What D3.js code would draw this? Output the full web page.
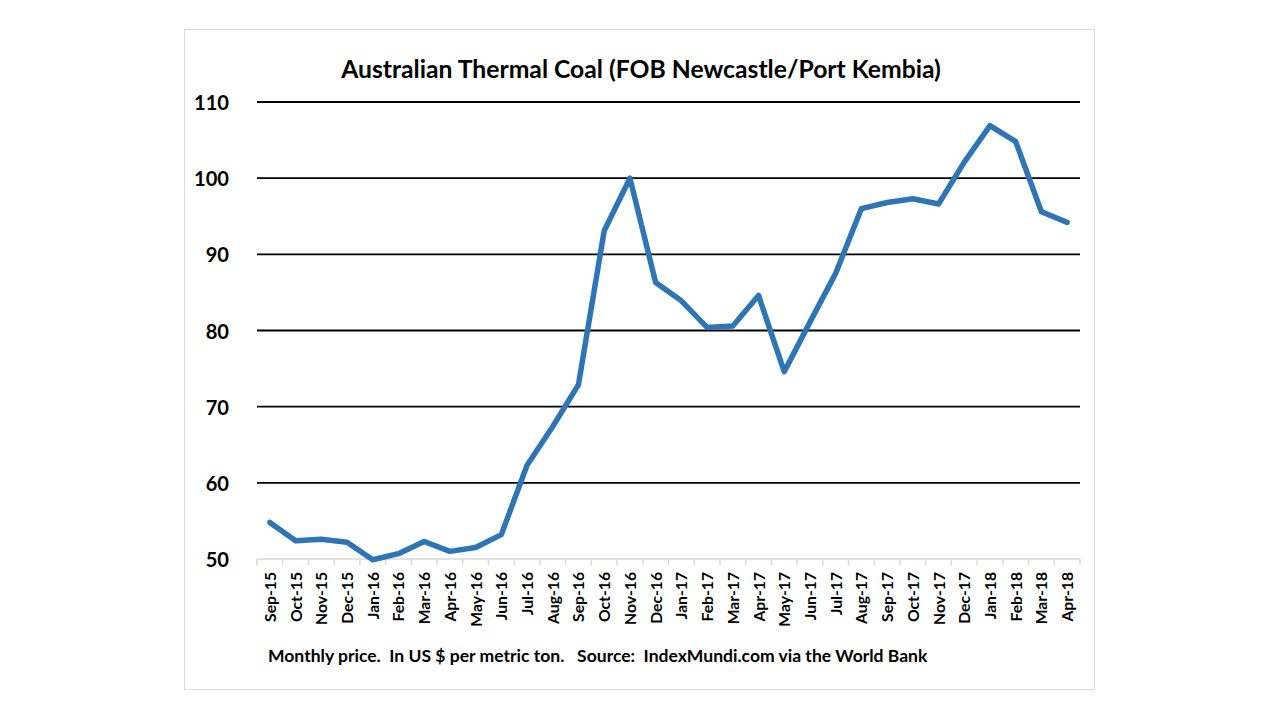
<!DOCTYPE html>
<html>
<head>
<meta charset="utf-8">
<script src="https://cdn.jsdelivr.net/npm/d3@7"></script>
<style>
  body { margin: 0; background: #fff; }
  text { font-family: Lato, "Open Sans", sans-serif; font-weight: bold; fill: #000; white-space: pre; }
</style>
</head>
<body>
<div id="chart"></div>
<script>
// monthly coal price, US $ per metric ton
const months = ["Sep-15", "Oct-15", "Nov-15", "Dec-15", "Jan-16", "Feb-16", "Mar-16", "Apr-16",
  "May-16", "Jun-16", "Jul-16", "Aug-16", "Sep-16", "Oct-16", "Nov-16", "Dec-16",
  "Jan-17", "Feb-17", "Mar-17", "Apr-17", "May-17", "Jun-17", "Jul-17", "Aug-17",
  "Sep-17", "Oct-17", "Nov-17", "Dec-17", "Jan-18", "Feb-18", "Mar-18", "Apr-18"];
const prices = [54.8, 52.4, 52.6, 52.2, 49.9, 50.7, 52.3, 51.0,
  51.5, 53.2, 62.3, 67.4, 72.9, 93.1, 100.0, 86.3,
  83.9, 80.4, 80.6, 84.6, 74.6, 81.1, 87.5, 96.0,
  96.8, 97.3, 96.6, 102.1, 106.9, 104.8, 95.6, 94.2];
const yTicks = [50, 60, 70, 80, 90, 100, 110];

const titleText = "Australian Thermal Coal (FOB Newcastle/Port Kembia)";
const noteText = "Monthly price.  In US $ per metric ton.   Source:  IndexMundi.com via the World Bank";

const W = 1280, H = 720;
const svg = d3.select("#chart").append("svg")
  .attr("width", W).attr("height", H);

// works out a font size so the first node of sel comes out targetWidth wide
function fitSize(sel, targetWidth, baseSize) {
  sel.style("font-size", baseSize + "px");
  const w = sel.node().getComputedTextLength();
  const size = baseSize * targetWidth / w;
  sel.style("font-size", size + "px");
  return size;
}

// chart frame
svg.append("rect")
  .attr("x", 184.5).attr("y", 29.5)
  .attr("width", 910).attr("height", 660)
  .attr("fill", "#fff").attr("stroke", "#d9d9d9").attr("stroke-width", 1);

const x = d3.scaleBand().domain(months).range([257, 1080]);
const y = d3.scaleLinear().domain([50, 110]).range([559, 102]);

// gridlines (black, skip the bottom one - that's the axis)
svg.append("g")
  .selectAll("line")
  .data(yTicks.filter(d => d > 50))
  .enter()
  .append("line")
  .attr("x1", 257).attr("x2", 1080)
  .attr("y1", d => y(d)).attr("y2", d => y(d))
  .attr("stroke", "#000").attr("stroke-width", 1.8);

// y axis labels
const yLabels = svg.append("g")
  .selectAll("text")
  .data(yTicks.slice().reverse())
  .enter()
  .append("text")
  .attr("x", 229)
  .attr("y", d => y(d))
  .attr("text-anchor", "end")
  .attr("dominant-baseline", "central")
  .text(d => d);
yLabels.style("font-size", fitSize(yLabels, 35, 20) + "px");

// x axis with ticks between categories
const xAxis = svg.append("g")
  .attr("transform", `translate(0, ${y(50)})`);
xAxis.append("line")
  .attr("x1", 257).attr("x2", 1080)
  .attr("stroke", "#d9d9d9").attr("stroke-width", 1.5);
xAxis.selectAll("line.tick")
  .data(months.concat(["end"]))
  .enter()
  .append("line")
  .attr("class", "tick")
  .attr("x1", (d, i) => 257 + i * x.bandwidth())
  .attr("x2", (d, i) => 257 + i * x.bandwidth())
  .attr("y1", 0).attr("y2", 6)
  .attr("stroke", "#d9d9d9").attr("stroke-width", 1.5);
const xLabels = xAxis.selectAll("text")
  .data(months)
  .enter()
  .append("text")
  .attr("transform", d => `translate(${x(d) + x.bandwidth() / 2}, 13) rotate(-90)`)
  .attr("text-anchor", "end")
  .attr("dominant-baseline", "central")
  .text(d => d);
xLabels.style("font-size", fitSize(xLabels, 50, 14) + "px");

// price line
const line = d3.line()
  .x((d, i) => x(months[i]) + x.bandwidth() / 2)
  .y(d => y(d));
svg.append("path")
  .datum(prices)
  .attr("d", line)
  .attr("fill", "none")
  .attr("stroke", "#2e75b6")
  .attr("stroke-width", 5.5)
  .attr("stroke-linejoin", "round")
  .attr("stroke-linecap", "round");

// title and note
const title = svg.append("text")
  .attr("x", 641).attr("y", 78)
  .attr("text-anchor", "middle")
  .text(titleText);
fitSize(title, 600, 22);

const note = svg.append("text")
  .attr("x", 268).attr("y", 662)
  .text(noteText);
fitSize(note, 660, 15);
</script>
</body>
</html>
